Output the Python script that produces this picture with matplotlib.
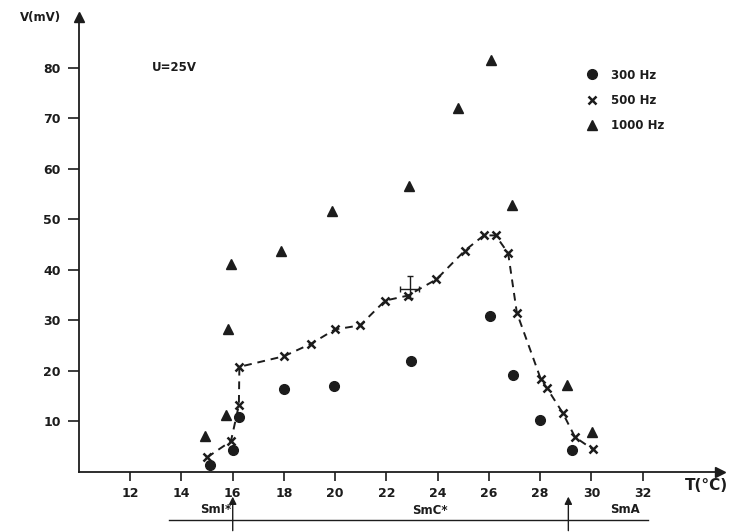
import numpy as np
import matplotlib.pyplot as plt

# 300 Hz (circles)
T_300 = [15.1, 16.0, 16.25, 18.0, 19.95, 22.95, 26.05, 26.95, 28.0, 29.25]
V_300 = [1.4, 4.3, 10.8, 16.5, 17.0, 21.9, 30.8, 19.1, 10.2, 4.3]

# 500 Hz (crosses, joined by the dashed curve)
T_500 = [15.0, 15.93, 16.24, 16.26, 18.0, 19.07, 19.99, 20.97, 21.95, 22.84,
         23.95, 25.06, 25.8, 26.26, 26.75, 27.09, 28.03, 28.25, 28.88, 29.36, 30.05]
V_500 = [2.9, 6.1, 13.2, 20.8, 22.9, 25.4, 28.2, 29.0, 33.9, 34.9,
         38.1, 43.8, 46.8, 46.8, 43.3, 31.5, 18.3, 16.7, 11.7, 6.9, 4.5]

# the point with error bars
T_err, V_err = 22.93, 36.2
T_err_lo, T_err_hi = 22.54, 23.28
V_err_lo, V_err_hi = 34.4, 38.7

# 1000 Hz (triangles)
T_1000 = [14.93, 15.74, 15.83, 15.93, 17.9, 19.88, 22.9, 24.78, 26.09, 26.91, 29.05, 30.03]
V_1000 = [7.1, 11.2, 28.2, 41.2, 43.7, 51.7, 56.5, 72.0, 81.4, 52.9, 17.3, 7.9]

x_ticks = [12, 14, 16, 18, 20, 22, 24, 26, 28, 30, 32]
y_ticks = [10, 20, 30, 40, 50, 60, 70, 80]

ink = '#1c1c1c'
plt.rcParams['font.family'] = ['DejaVu Sans']
plt.rcParams['font.weight'] = 'bold'

fig = plt.figure(figsize=(7.35, 5.32), dpi=100)
fig.patch.set_facecolor('white')
ax = fig.add_axes([79/735, 60/532, 640.5/735, 455/532])
ax.set_xlim(10, 35)
ax.set_ylim(0, 90)

# only left and bottom axes, with arrow heads
for s in ['top', 'right']:
    ax.spines[s].set_visible(False)
for s in ['left', 'bottom']:
    ax.spines[s].set_color(ink)
    ax.spines[s].set_linewidth(1.3)
ax.plot([0], [1], marker='^', ms=7, color=ink, transform=ax.transAxes, clip_on=False)
ax.plot([1], [0], marker='>', ms=7, color=ink, transform=ax.transAxes, clip_on=False)

ax.set_xticks(x_ticks)
ax.set_yticks(y_ticks)
ax.tick_params(direction='out', width=1.2, color=ink, labelcolor=ink, labelsize=9)
ax.tick_params(axis='x', length=6.5, pad=4)
ax.tick_params(axis='y', length=8, pad=5)
for lab in ax.get_xticklabels() + ax.get_yticklabels():
    lab.set_fontweight('bold')

# dashed curve through the 500 Hz data
ax.plot(T_500, V_500, '--', color=ink, lw=1.4, dashes=(4, 3))

ax.plot(T_300, V_300, 'o', color=ink, ms=7, label='300 Hz')
ax.plot(T_500, V_500, 'x', color=ink, ms=6, mew=1.8, label='500 Hz')
ax.plot(T_1000, V_1000, '^', color=ink, ms=6.5, label='1000 Hz')

ax.errorbar([T_err], [V_err],
            xerr=[[T_err - T_err_lo], [T_err_hi - T_err]],
            yerr=[[V_err - V_err_lo], [V_err_hi - V_err]],
            fmt='none', ecolor=ink, elinewidth=1.0, capsize=2)

ax.legend(loc='upper left', bbox_to_anchor=(0.775, 0.91), frameon=False,
          prop={'size': 8.5, 'weight': 'bold'}, handletextpad=1.1,
          labelspacing=1.05, handlelength=1.0, labelcolor=ink)

ax.text(0.114, 0.888, 'U=25V', transform=ax.transAxes, fontsize=8.5,
        fontweight='bold', color=ink, va='center')
fig.text(40/735, 1 - 17/532, 'V(mV)', ha='center', va='center', fontsize=8.5,
         fontweight='bold', color=ink)
ax.text(34.5, -0.03, 'T(°C)', transform=ax.get_xaxis_transform(), ha='center',
        va='center', fontsize=11, fontweight='bold', color=ink)

# phase boundaries under the temperature axis
tr = ax.get_xaxis_transform()
ax.plot([13.5, 32.2], [-0.106, -0.106], color=ink, lw=1.0, transform=tr, clip_on=False)
for tb in [16.0, 29.1]:
    ax.annotate('', xy=(tb, -0.048), xytext=(tb, -0.135), xycoords=tr, textcoords=tr,
                arrowprops=dict(arrowstyle='-|>', color=ink, lw=1.0, mutation_scale=11))
ax.text(15.35, -0.083, 'SmI*', transform=tr, ha='center', va='center',
        fontsize=8.5, fontweight='bold', color=ink)
ax.text(23.7, -0.085, 'SmC*', transform=tr, ha='center', va='center',
        fontsize=8.5, fontweight='bold', color=ink)
ax.text(31.3, -0.083, 'SmA', transform=tr, ha='center', va='center',
        fontsize=8.5, fontweight='bold', color=ink)

plt.savefig('out.png', dpi=100)
